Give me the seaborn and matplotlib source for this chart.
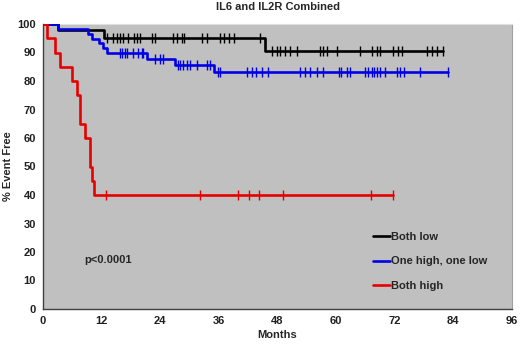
import numpy as np
import pandas as pd
import matplotlib
matplotlib.use("Agg")
import matplotlib.pyplot as plt
import seaborn as sns

# ---- data ----
groups = ["Both low", "One high, one low", "Both high"]
colors = ["#000000", "#0000e6", "#e60000"]

# step times (months) and survival (% event free) after each step
low_times = [0, 3.0, 12.5, 45.5]
low_surv = [100, 98.0, 95.2, 90.5]
low_end = 81.8
low_cens = [13.0, 14.4, 15.2, 15.8, 16.3, 17.3, 18.6, 19.2, 19.9, 22.3, 22.9,
            26.7, 27.5, 28.4, 28.9, 32.5, 33.5, 36.2, 37.1, 38.1, 39.0, 44.4,
            46.8, 47.8, 48.5, 49.5, 50.6, 51.9, 56.7, 57.4, 58.1, 60.1, 64.9,
            67.3, 68.3, 69.0, 71.7, 72.7, 73.4, 78.5, 79.6, 80.6, 81.8]

mix_times = [0, 3.1, 9.3, 10.1, 11.5, 12.2, 13.0, 21.2, 27.0, 35.0]
mix_surv = [100, 98.3, 96.6, 94.9, 93.2, 91.5, 89.8, 87.8, 85.6, 83.1]
mix_end = 83.0
mix_cens = [15.8, 16.1, 16.8, 17.1, 18.5, 19.5, 20.2, 20.5, 22.9, 24.0, 24.6,
            27.7, 28.0, 28.7, 29.4, 30.1, 31.5, 33.5, 34.2, 35.9, 36.2, 41.7,
            42.7, 43.7, 44.8, 46.1, 52.6, 53.6, 54.7, 56.0, 57.4, 60.5, 61.1,
            62.2, 62.8, 65.9, 66.6, 67.3, 67.8, 68.3, 69.0, 70.0, 72.4, 73.1,
            73.8, 77.2, 83.0]

high_times = [0, 0.8, 2.5, 3.5, 5.9, 7.0, 7.6, 8.6, 9.6, 10.0, 10.5]
high_surv = [100, 95, 90, 85, 80, 75, 65, 60, 50, 45, 40]
high_end = 71.6
high_cens = [12.9, 32.1, 40.0, 42.2, 44.2, 49.1, 67.1, 71.6]

x_ticks = [0, 12, 24, 36, 48, 60, 72, 84, 96]
y_ticks = [0, 10, 20, 30, 40, 50, 60, 70, 80, 90, 100]

# ---- build tables ----
curves = []
marks = []
for g, t, s, end, c in [(groups[0], low_times, low_surv, low_end, low_cens),
                        (groups[1], mix_times, mix_surv, mix_end, mix_cens),
                        (groups[2], high_times, high_surv, high_end, high_cens)]:
    tt = list(t) + [end]
    ss = list(s) + [s[-1]]
    curves.append(pd.DataFrame({"Months": tt, "Surv": ss, "Group": g}))
    idx = np.searchsorted(np.array(t), np.array(c), side="right") - 1
    marks.append(pd.DataFrame({"Months": c, "Surv": np.array(s)[idx], "Group": g}))
curve_df = pd.concat(curves, ignore_index=True)
mark_df = pd.concat(marks, ignore_index=True)

sns.set_style("white")
plt.rcParams["font.family"] = ["Liberation Sans", "DejaVu Sans"]
plt.rcParams["font.weight"] = "bold"

fig = plt.figure(figsize=(5.2, 3.45), dpi=100)
ax = fig.add_axes([43 / 520, 1 - 309 / 345, 469 / 520, 285 / 345])
ax.set_facecolor("#c0c0c0")

palette = dict(zip(groups, colors))
for i, g in enumerate(groups):
    sub = curve_df[curve_df.Group == g]
    sns.lineplot(data=sub, x="Months", y="Surv", color=palette[g], lw=1.9,
                 drawstyle="steps-post", ax=ax, label=g, estimator=None,
                 sort=False, zorder=3 + i)
    msub = mark_df[mark_df.Group == g]
    sns.scatterplot(data=msub, x="Months", y="Surv", color=palette[g],
                    marker="|", s=50, linewidth=1.0, ax=ax, zorder=3 + i,
                    legend=False)

ax.set_xlim(0, 96)
ax.set_ylim(0, 100)
ax.set_xticks(x_ticks)
ax.set_yticks(y_ticks)
ax.tick_params(axis="both", direction="out", length=3, width=0.8,
               labelsize=8, colors="#202020", pad=2)
for lab in ax.get_xticklabels() + ax.get_yticklabels():
    lab.set_fontweight("bold")
ax.set_xlabel("Months", fontsize=8, fontweight="bold", labelpad=3)
ax.set_ylabel("% Event Free", fontsize=8, fontweight="bold", labelpad=3)
ax.set_title("IL6 and IL2R Combined", fontsize=8, fontweight="bold", pad=10)

for side in ["left", "bottom"]:
    ax.spines[side].set_color("#404040")
    ax.spines[side].set_linewidth(1.0)
ax.spines["top"].set_color("#e0e0e0")
ax.spines["right"].set_color("#a0a0a0")

ax.text(0.087, 0.172, "p<0.0001", transform=ax.transAxes, fontsize=8,
        fontweight="bold", va="center", ha="left")

leg = ax.legend(loc="upper left", bbox_to_anchor=(0.704, 0.27), frameon=False,
                fontsize=8, handlelength=1.5, handletextpad=0.1,
                labelspacing=1.3, borderpad=0, borderaxespad=0)
for t in leg.get_texts():
    t.set_fontweight("bold")

fig.savefig("out.png", dpi=100)
